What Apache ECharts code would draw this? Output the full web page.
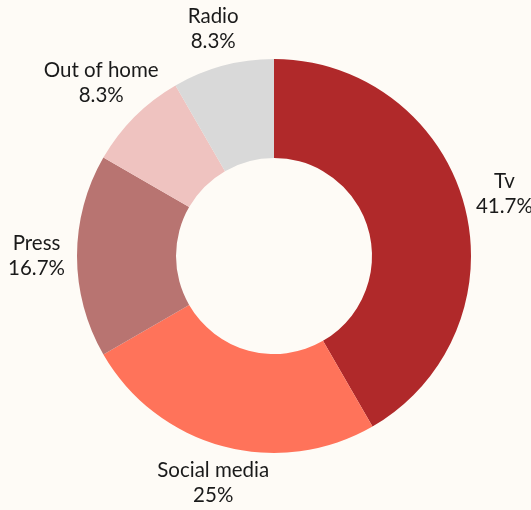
<!DOCTYPE html>
<html><head><meta charset="utf-8">
<style>html,body{margin:0;padding:0;background:#fefbf6;}#c{width:531px;height:510px;}</style>
<script src="https://cdn.jsdelivr.net/npm/echarts@6/dist/echarts.min.js"></script>
</head><body><div id="c"></div>
<script>
const categories = ['Tv', 'Social media', 'Press', 'Out of home', 'Radio'];
const values = [5, 3, 2, 1, 1];
const colors = ['#b0292a', '#ff735a', '#b87471', '#efc3c0', '#d9d9d9'];

const CX = 274, CY = 256, R_IN = 98, R_OUT = 197, GAP = 12;
const total = values.reduce((a, b) => a + b, 0);
function midAngle(i) {
  let s = 0;
  for (let k = 0; k < i; k++) s += values[k];
  return ((s + values[i] / 2) / total) * Math.PI * 2; // clockwise from top
}

const chart = echarts.init(document.getElementById('c'), null, {renderer: 'canvas'});
chart.setOption({
  backgroundColor: '#fefbf6',
  animation: false,
  series: [{
    type: 'pie',
    center: [CX, CY],
    radius: [R_IN, R_OUT],
    startAngle: 90,
    clockwise: true,
    percentPrecision: 1,
    avoidLabelOverlap: false,
    itemStyle: {borderWidth: 0},
    label: {
      show: true,
      position: 'outside',
      formatter: '{b}\n{d}%',
      color: '#1a1a1a',
      fontFamily: 'Lato',
      fontSize: 20.5,
      lineHeight: 25,
      align: 'center'
    },
    labelLine: {show: false},
    labelLayout: function (p) {
      const a = midAngle(p.dataIndex);
      const ux = Math.sin(a), uy = -Math.cos(a);
      const hw = p.labelRect.width / 2, hh = p.labelRect.height / 2;
      const ext = Math.min(Math.abs(ux) > 1e-6 ? hw / Math.abs(ux) : 1e9,
                           Math.abs(uy) > 1e-6 ? hh / Math.abs(uy) : 1e9);
      const d = R_OUT + GAP + ext;
      return {x: CX + ux * d, y: CY + uy * d, align: 'center', verticalAlign: 'middle'};
    },
    data: categories.map((n, i) => ({name: n, value: values[i], itemStyle: {color: colors[i]}}))
  }]
});
</script></body></html>
